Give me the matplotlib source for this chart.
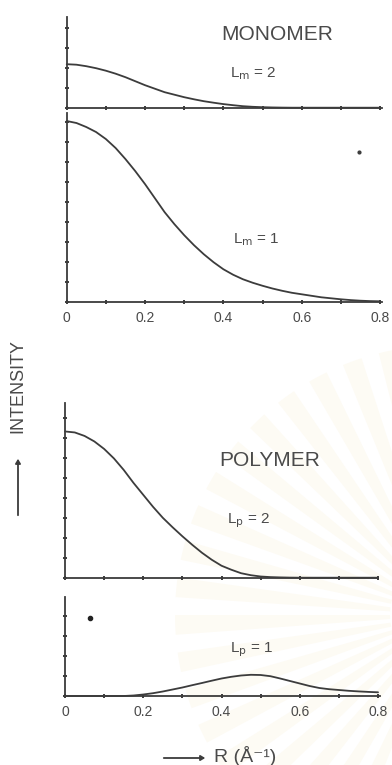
import numpy as np
import matplotlib
matplotlib.use("Agg")
import matplotlib.pyplot as plt
from matplotlib.patches import Wedge, FancyArrowPatch

# ---------------------------------------------------------------- data
# scattering vector R (1/Angstrom), sampled every 0.025
R = np.round(np.arange(0, 0.8001, 0.025), 3)

# monomer, L_m = 2
mono_lm2 = [43.5, 43.0, 41.5, 39.5, 37.0, 34.0, 30.5, 26.5, 22.5, 19.0, 15.5,
            13.0, 10.5, 8.4, 6.5, 5.0, 3.6, 2.5, 1.5, 0.9, 0.5, 0.25, 0.1,
            0, 0, 0, 0, 0, 0, 0, 0, 0, 0]
# monomer, L_m = 1
mono_lm1 = [181, 179, 175, 170, 163, 154, 143, 131, 118, 104, 90, 78, 67, 57,
            48, 40, 33, 27.5, 23, 19.5, 16.5, 13.8, 11.5, 9.5, 8, 6.5, 5, 4,
            3, 2.2, 1.6, 1.2, 1.0]
# polymer, L_p = 2
poly_lp2 = [146.5, 145.5, 142, 136.5, 129, 119.5, 108, 95, 83, 71, 60, 50.5,
            41.5, 33, 25, 18, 12, 8, 4.5, 2.5, 1.2, 0.6, 0.3, 0.1,
            0, 0, 0, 0, 0, 0, 0, 0, 0]
# polymer, L_p = 1
poly_lp1 = [0, 0, 0, 0, 0, 0, 0, 0.5, 1.5, 2.8, 4.5, 6.5, 8.5, 10.8, 13, 15.3,
            17.5, 19.2, 20.5, 21.2, 21, 19.8, 17.5, 15, 12.5, 10, 8, 6.8, 6,
            5.2, 4.6, 4.1, 3.7]

# stray specks on the print (R, intensity)
specks_lm1 = ([0.746], [150])
specks_lp1 = ([0.064], [78])

x_ticks = [0, 0.2, 0.4, 0.6, 0.8]
x_ticklabels = ["0", "0.2", "0.4", "0.6", "0.8"]

# ---------------------------------------------------------------- style
W, H = 392, 765
INK = "#3c3c3c"
TXT = "#4a4a4a"
plt.rcParams["font.family"] = ["Liberation Sans", "DejaVu Sans"]

fig = plt.figure(figsize=(W / 100, H / 100), dpi=100)
fig.patch.set_facecolor("white")

# faint seal watermark on the right-hand side
bg = fig.add_axes([0, 0, 1, 1], zorder=-10)
bg.set_xlim(0, W)
bg.set_ylim(0, H)
bg.axis("off")
cx, cy = 445, H - 615
for a in np.arange(92, 272, 8):
    bg.add_patch(Wedge((cx, cy), 270, a, a + 4.2, width=215,
                       facecolor="#f7e9c2", edgecolor="none", alpha=0.18))


def px_axes(left, top, right, bottom, xmax, ymax):
    ax = fig.add_axes([left / W, 1 - bottom / H, (right - left) / W,
                       (bottom - top) / H])
    ax.set_facecolor("none")
    ax.set_xlim(0, xmax)
    ax.set_ylim(0, ymax)
    for s in ("top", "right"):
        ax.spines[s].set_visible(False)
    for s in ("left", "bottom"):
        ax.spines[s].set_color(INK)
        ax.spines[s].set_linewidth(1.3)
    ax.set_xticks(np.arange(0, xmax + 1e-6, 0.1))
    ax.set_yticks(np.arange(0, ymax, 20))
    ax.set_yticklabels([])
    ax.set_xticklabels([])
    ax.tick_params(direction="inout", length=3, width=1.4, color=INK,
                   pad=5, labelsize=10, labelcolor=TXT)
    return ax


def label_x(ax):
    ax.set_xticks(x_ticks)
    ax.set_xticklabels(x_ticklabels)
    ax.set_xticks(np.arange(0, 0.81, 0.1), minor=True)
    ax.tick_params(which="minor", direction="inout", length=3, width=1.4,
                   color=INK)


ax1 = px_axes(66.7, 16.7, 382, 107.7, 0.805, 91)
ax2 = px_axes(66.7, 113, 382, 302.3, 0.805, 189)
ax3 = px_axes(65, 403, 378, 577.7, 0.80, 175)
ax4 = px_axes(65, 597, 380, 696, 0.805, 99)
label_x(ax2)
label_x(ax4)

for ax, y in ((ax1, mono_lm2), (ax2, mono_lm1), (ax3, poly_lp2),
              (ax4, poly_lp1)):
    ax.plot(R, y, color=INK, lw=1.3, solid_capstyle="round",
            solid_joinstyle="round", clip_on=False)

ax2.plot(*specks_lm1, "o", ms=2, color=INK)
ax4.plot(*specks_lp1, "o", ms=3, color="#222222")


def ftext(x, y, s, **kw):
    fig.text(x / W, 1 - y / H, s, color=TXT, **kw)


ftext(277, 35, "MONOMER", fontsize=15, ha="center", va="center")
ftext(253, 74, r"L$_\mathrm{m}$ = 2", fontsize=11, ha="center", va="center")
ftext(256, 240, r"L$_\mathrm{m}$ = 1", fontsize=11, ha="center", va="center")
ftext(270, 460, "POLYMER", fontsize=15, ha="center", va="center")
ftext(248, 521, r"L$_\mathrm{p}$ = 2", fontsize=11, ha="center", va="center")
ftext(251, 650, r"L$_\mathrm{p}$ = 1", fontsize=11, ha="center", va="center")

ftext(18, 386, "INTENSITY", fontsize=13, rotation=90, ha="center",
      va="center")
fig.add_artist(FancyArrowPatch(
    (18 / W, 1 - 518 / H), (18 / W, 1 - 456 / H), transform=fig.transFigure,
    arrowstyle="-|>,head_length=2.5,head_width=1.5", color=INK, lw=1.3))

fig.add_artist(FancyArrowPatch(
    (161 / W, 1 - 758 / H), (208 / W, 1 - 758 / H), transform=fig.transFigure,
    arrowstyle="-|>,head_length=2.5,head_width=1.5", color=INK, lw=1.3))
ftext(214, 756, "R (Å⁻¹)", fontsize=14, ha="left", va="center")

fig.savefig("out.png", dpi=100)
